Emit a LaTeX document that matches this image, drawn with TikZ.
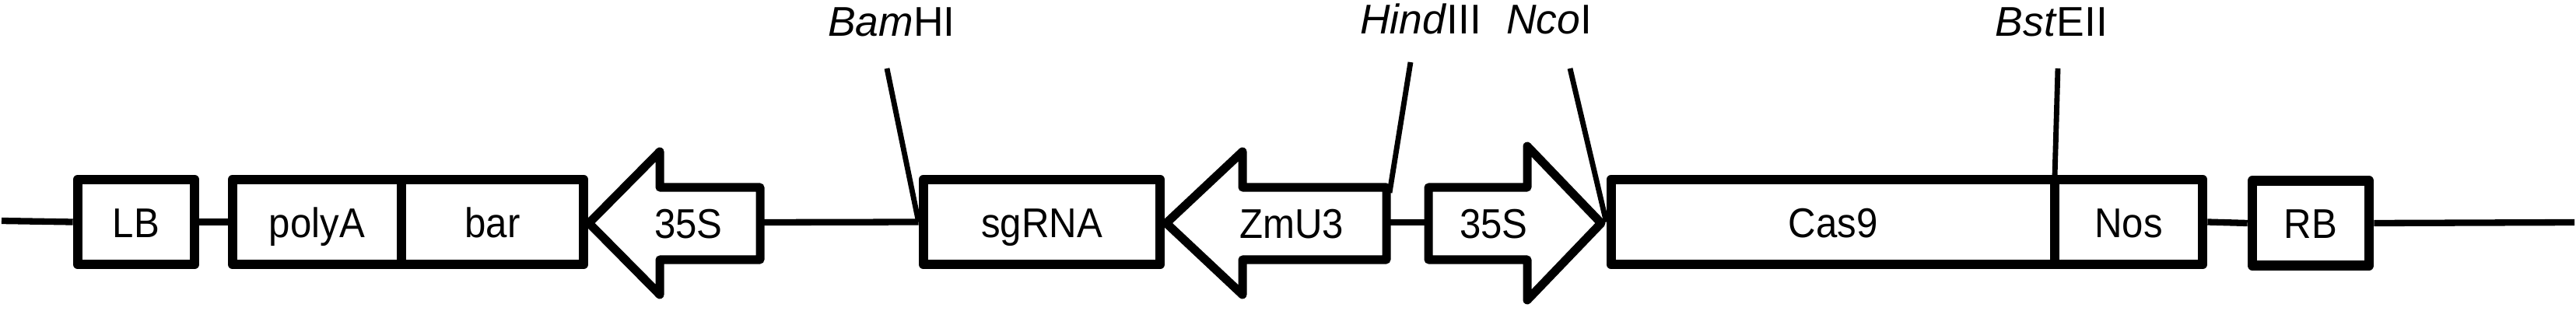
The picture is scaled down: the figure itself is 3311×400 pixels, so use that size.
\documentclass[tikz,border=0pt]{standalone}
\usepackage{fontspec}
\setmainfont{Liberation Sans}
\newfontfamily\narrowfont{Liberation Sans}[FakeStretch=0.92]
\begin{document}
\begin{tikzpicture}[x=0.01cm,y=-0.01cm,line join=round,
  part/.style={draw,line width=3.56pt,minimum height=1.09cm,inner sep=0pt,
    text height=0.39cm,text depth=0cm,font=\narrowfont\fontsize{15.2pt}{18pt}\selectfont},
  arrowtxt/.style={inner sep=0pt,text height=0.39cm,text depth=0cm,
    font=\narrowfont\fontsize{15.2pt}{18pt}\selectfont},
  arrowshape/.style={draw,line width=3.13pt},
  conn/.style={line width=2.36pt},
  leader/.style={line width=1.95pt},
  site/.style={inner sep=0pt,anchor=base,font=\fontsize{15.2pt}{18pt}\selectfont}]
\useasboundingbox (0,0) rectangle (3311,400);

% boxes
\node[part,minimum width=1.50cm] (LB) at (175,285.5) {LB};
\node[part,minimum width=2.17cm] (polyA) at (407.5,285.5) {polyA};
\node[part,minimum width=2.34cm] (bar) at (633,285.5) {bar};
\node[part,minimum width=3.04cm] (sgRNA) at (1339,285.5) {sgRNA};
\node[part,minimum width=5.70cm] (Cas9) at (2356,285.5) {Cas9};
\node[part,minimum width=1.90cm] (Nos) at (2736,285.5) {Nos};
\node[part,minimum width=1.50cm] (RB) at (2970,287) {RB};

% promoter arrows
\draw[arrowshape] (757,287) -- (848,195) -- (848,241) -- (977,241) -- (977,334)
  -- (848,334) -- (848,379) -- cycle;
\node[arrowtxt] (p35a) at (885,287) {35S};
\coordinate (p35aR) at (982,286);

\draw[arrowshape] (1499,287) -- (1597,195) -- (1597,241) -- (1782,241) -- (1782,334)
  -- (1597,334) -- (1597,379) -- cycle;
\node[arrowtxt] (zmu3) at (1660,287) {ZmU3};
\coordinate (zmu3R) at (1787,286);
\coordinate (zmu3C) at (1786,248);

\draw[arrowshape] (1836,241) -- (1963,241) -- (1963,188) -- (2058,287) -- (1963,386)
  -- (1963,334) -- (1836,334) -- cycle;
\node[arrowtxt] (p35b) at (1920,287) {35S};
\coordinate (p35bL) at (1831,286);

% backbone connectors
\coordinate (Lend) at (2,284);
\coordinate (Rend) at (3309,286);
\draw[conn] (Lend) -- (LB.west);
\draw[conn] (LB.east) -- (polyA.west);
\draw[conn] (p35aR) -- (sgRNA.west);
\draw[conn] (zmu3R) -- (p35bL);
\draw[conn] (Nos.east) -- (RB.west);
\draw[conn] (RB.east) -- (Rend);

% restriction sites
\node[site] (bam) at (1146,47) {\textit{Bam}HI};
\node[site] (hind) at (1826,44) {\textit{Hind}III};
\node[site] (nco) at (1991,44) {\textit{Nco}I};
\node[site] (bst) at (2637,47) {\textit{Bst}EII};
\coordinate (bamT) at (1140,88);
\coordinate (hindT) at (1813,80);
\coordinate (ncoT) at (2018,88);
\coordinate (bstT) at (2645,88);
\coordinate (bstB) at (2641,228);
\draw[leader] (bamT) -- (sgRNA.west);
\draw[leader] (hindT) -- (zmu3C);
\draw[leader] (ncoT) -- (Cas9.west);
\draw[leader] (bstT) -- (bstB);
\end{tikzpicture}
\end{document}
